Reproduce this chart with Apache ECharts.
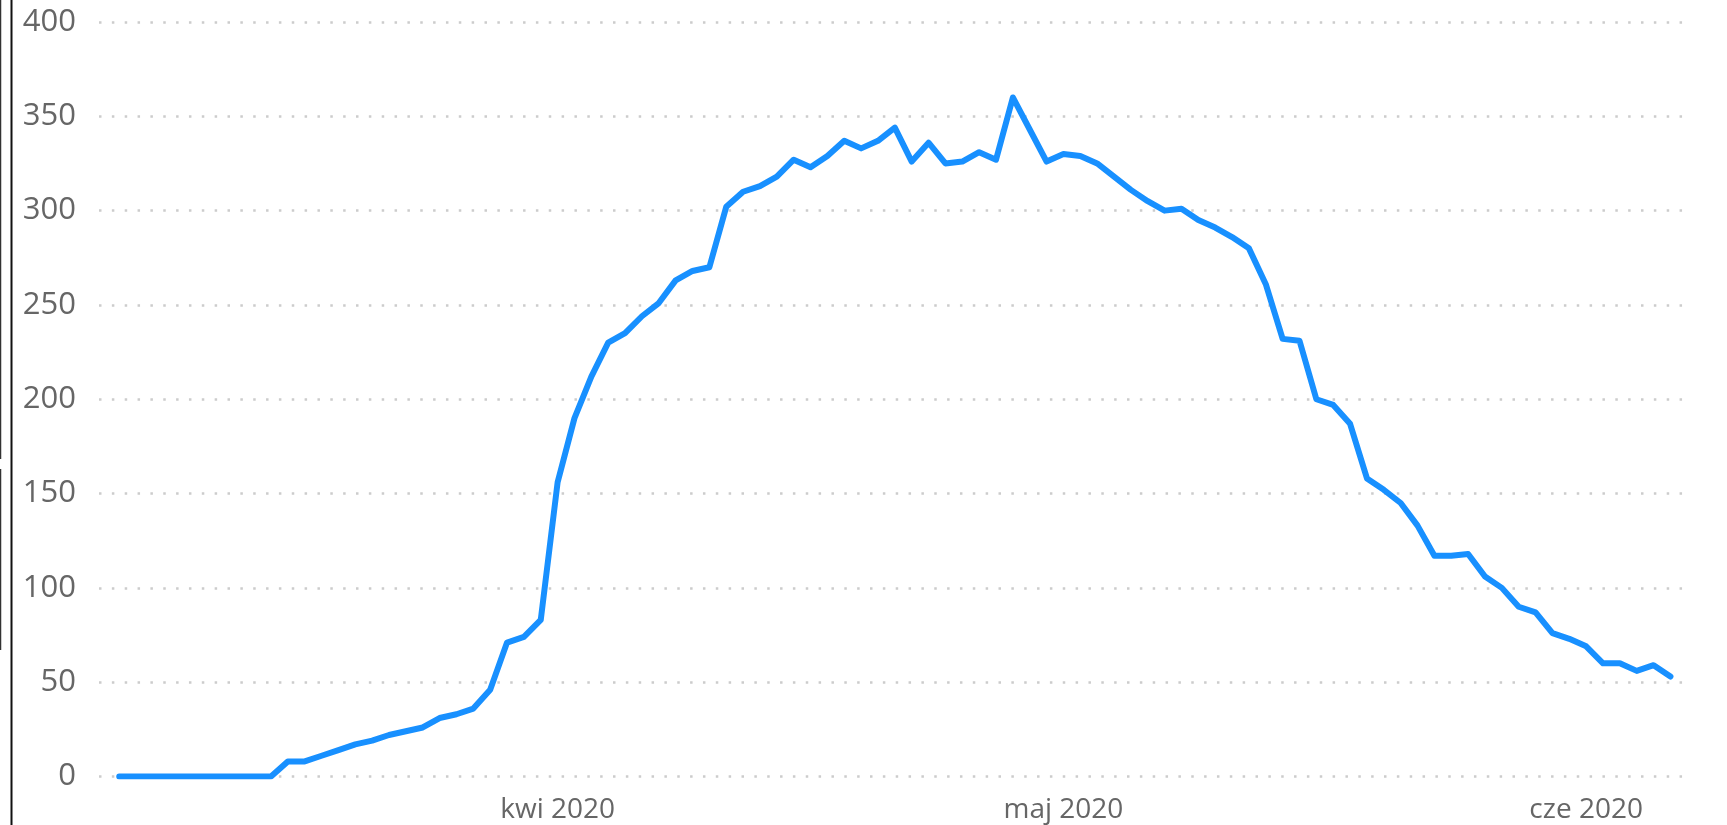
<!DOCTYPE html>
<html lang="pl">
<head>
<meta charset="UTF-8">
<title>Wykres</title>
<script src="https://cdn.jsdelivr.net/npm/echarts@6/dist/echarts.min.js"></script>
<style>
  html, body { margin: 0; padding: 0; background: #fff; }
  #chart { width: 1727px; height: 825px; }
</style>
</head>
<body>
<div id="chart"></div>
<script>
// dane dzienne od 6 marca 2020
var startDate = [2020, 2, 6];
var values = [
  0, 0, 0, 0, 0, 0, 0, 0, 0, 0,
  8, 8, 11, 14, 17, 19, 22, 24, 26, 31,
  33, 36, 46, 71, 74, 83, 156, 190, 212, 230,
  235, 244, 251, 263, 268, 270, 302, 310, 313, 318,
  327, 323, 329, 337, 333, 337, 344, 326, 336, 325,
  326, 331, 327, 360, 343, 326, 330, 329, 325, 318,
  311, 305, 300, 301, 295, 291, 286, 280, 261, 232,
  231, 200, 197, 187, 158, 152, 145, 133, 117, 117,
  118, 106, 100, 90, 87, 76, 73, 69, 60, 60,
  56, 59, 53
];
var monthNames = ['sty', 'lut', 'mar', 'kwi', 'maj', 'cze', 'lip', 'sie', 'wrz', 'paź', 'lis', 'gru'];
var yTicks = [0, 50, 100, 150, 200, 250, 300, 350, 400];

var DAY = 86400000;
var dates = values.map(function (v, i) {
  return new Date(startDate[0], startDate[1], startDate[2] + i).getTime();
});
var seriesData = values.map(function (v, i) { return [dates[i], v]; });

var chart = echarts.init(document.getElementById('chart'));
var option = {
  animation: false,
  grid: { left: 99, right: 38, top: 22, bottom: 48.5, containLabel: false, outerBoundsMode: 'none' },
  xAxis: {
    type: 'time',
    min: dates[0] - 1.2 * DAY,
    max: dates[dates.length - 1] + 1.1 * DAY,
    minInterval: 28 * DAY,
    maxInterval: 31 * DAY,
    axisLine: { show: false },
    axisTick: { show: false },
    splitLine: { show: false },
    axisLabel: {
      margin: 20,
      fontSize: 28,
      fontFamily: 'Open Sans',
      color: '#666',
      hideOverlap: false,
      formatter: function (val) {
        var d = new Date(val);
        if (d.getDate() !== 1) return '';
        return monthNames[d.getMonth()] + ' ' + d.getFullYear();
      }
    }
  },
  yAxis: {
    type: 'value',
    min: yTicks[0],
    max: yTicks[yTicks.length - 1],
    interval: 50,
    axisLine: { show: false },
    axisTick: { show: false },
    axisLabel: {
      margin: 23,
      fontSize: 31,
      fontFamily: 'Open Sans',
      color: '#666',
      align: 'right'
    },
    splitLine: {
      lineStyle: { color: '#cccccc', width: 2.5, type: [2.5, 10.35] }
    }
  },
  series: [{
    type: 'line',
    data: seriesData,
    showSymbol: false,
    lineStyle: { color: '#1890ff', width: 6, cap: 'round', join: 'round' },
    itemStyle: { color: '#1890ff' }
  }],
  graphic: [
    { type: 'line', shape: { x1: 11.5, y1: 0, x2: 11.5, y2: 825 }, style: { stroke: '#111', lineWidth: 2 } },
    { type: 'line', shape: { x1: 0.5, y1: 0, x2: 0.5, y2: 459 }, style: { stroke: '#333', lineWidth: 1.5 } },
    { type: 'line', shape: { x1: 0.5, y1: 469, x2: 0.5, y2: 650 }, style: { stroke: '#333', lineWidth: 1.5 } }
  ]
};
chart.setOption(option);
</script>
</body>
</html>
